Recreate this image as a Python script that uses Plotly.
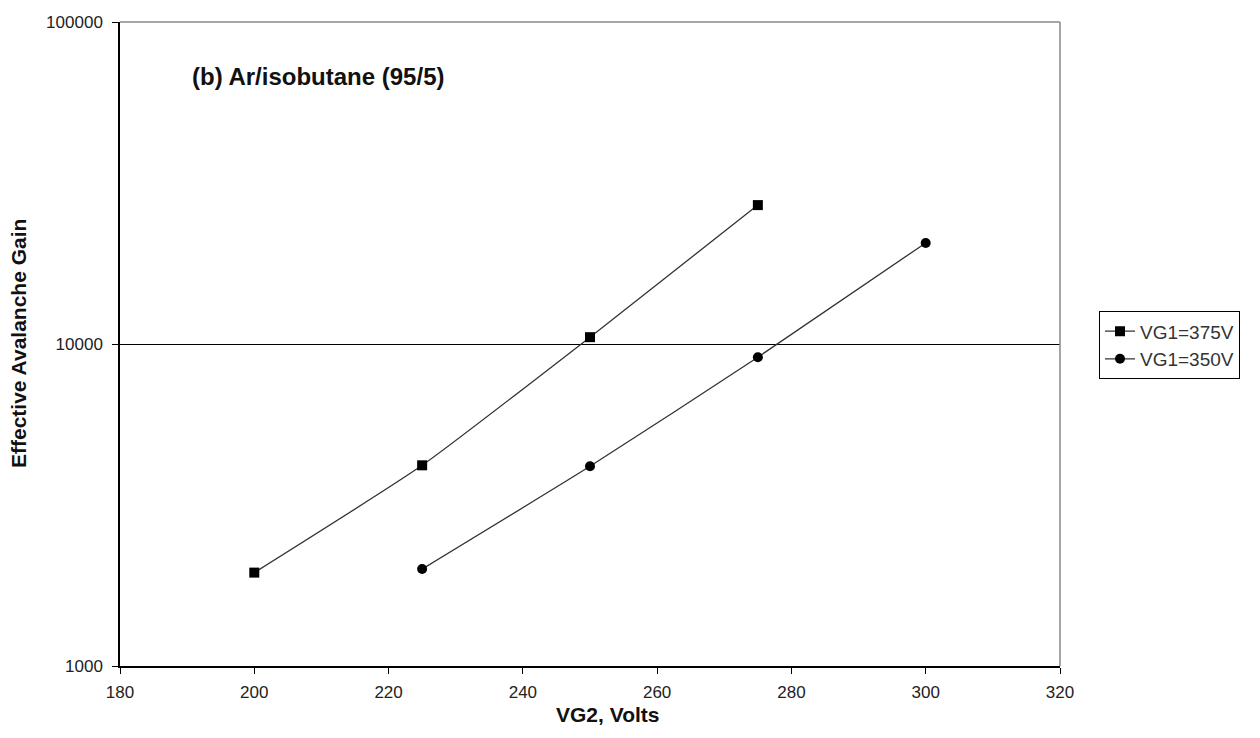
import plotly.graph_objects as go

vg2_375 = [200, 225, 250, 275]
gain_375 = [1950, 4200, 10500, 27000]
vg2_350 = [225, 250, 275, 300]
gain_350 = [2000, 4170, 9100, 20600]
names = ["VG1=375V", "VG1=350V"]
x_ticks = [180, 200, 220, 240, 260, 280, 300, 320]
y_ticks = [1000, 10000, 100000]

font = "Liberation Sans, Arial, sans-serif"

fig = go.Figure()
fig.add_trace(go.Scatter(x=vg2_375, y=gain_375, name=names[0], mode="lines+markers",
                         line=dict(color="#333333", width=1.3, shape="spline", smoothing=0.5),
                         marker=dict(symbol="square", size=10, color="black")))
fig.add_trace(go.Scatter(x=vg2_350, y=gain_350, name=names[1], mode="lines+markers",
                         line=dict(color="#333333", width=1.3, shape="spline", smoothing=0.5),
                         marker=dict(symbol="circle", size=10, color="black")))

fig.update_layout(
    width=1252, height=730,
    margin=dict(l=112, r=200, t=14, b=72, autoexpand=False),
    paper_bgcolor="white", plot_bgcolor="white",
    font=dict(family=font, size=17, color="#222222"),
    showlegend=True,
    legend=dict(x=1.0415, xanchor="left", y=0.498, yanchor="middle",
                bordercolor="black", borderwidth=1, font=dict(size=19, color="#333333"),
                tracegroupgap=0, itemwidth=30),
    annotations=[
        dict(text="<b>(b) Ar/isobutane (95/5)</b>", x=0.0745, y=0.9146, xref="paper", yref="paper",
             xanchor="left", yanchor="middle", showarrow=False,
             font=dict(size=24, family=font, color="#111111")),
        dict(text="<b>VG2, Volts</b>", x=0.5, y=0, xref="paper", yref="paper", yshift=-48,
             xshift=17, xanchor="center", yanchor="middle", showarrow=False,
             font=dict(size=21, family=font, color="#111111")),
        dict(text="<b>Effective Avalanche Gain</b>", x=0, y=0.5, xref="paper", yref="paper",
             xshift=-102, textangle=-90, xanchor="center", yanchor="middle", showarrow=False,
             font=dict(size=21, family=font, color="#111111")),
    ],
)
fig.update_xaxes(range=[180, 320], tickvals=x_ticks, ticks="outside", ticklen=6,
                 tickcolor="black", showline=True, linecolor="black", linewidth=1.5,
                 mirror=False, showgrid=False, zeroline=False, ticklabelstandoff=4)
fig.update_yaxes(type="log", range=[3, 5], tickvals=y_ticks, ticktext=[str(v) for v in y_ticks],
                 ticks="outside", ticklen=6, tickcolor="black", showline=True,
                 linecolor="black", linewidth=1.5, showgrid=True, gridcolor="black",
                 gridwidth=1, zeroline=False, ticklabelstandoff=6)

# gray border top/right
fig.add_shape(type="line", xref="paper", yref="paper", x0=0, x1=1, y0=1, y1=1,
              line=dict(color="#888888", width=1.5))
fig.add_shape(type="line", xref="paper", yref="paper", x0=1, x1=1, y0=0, y1=1,
              line=dict(color="#888888", width=1.5))

fig.write_html("out.html")
